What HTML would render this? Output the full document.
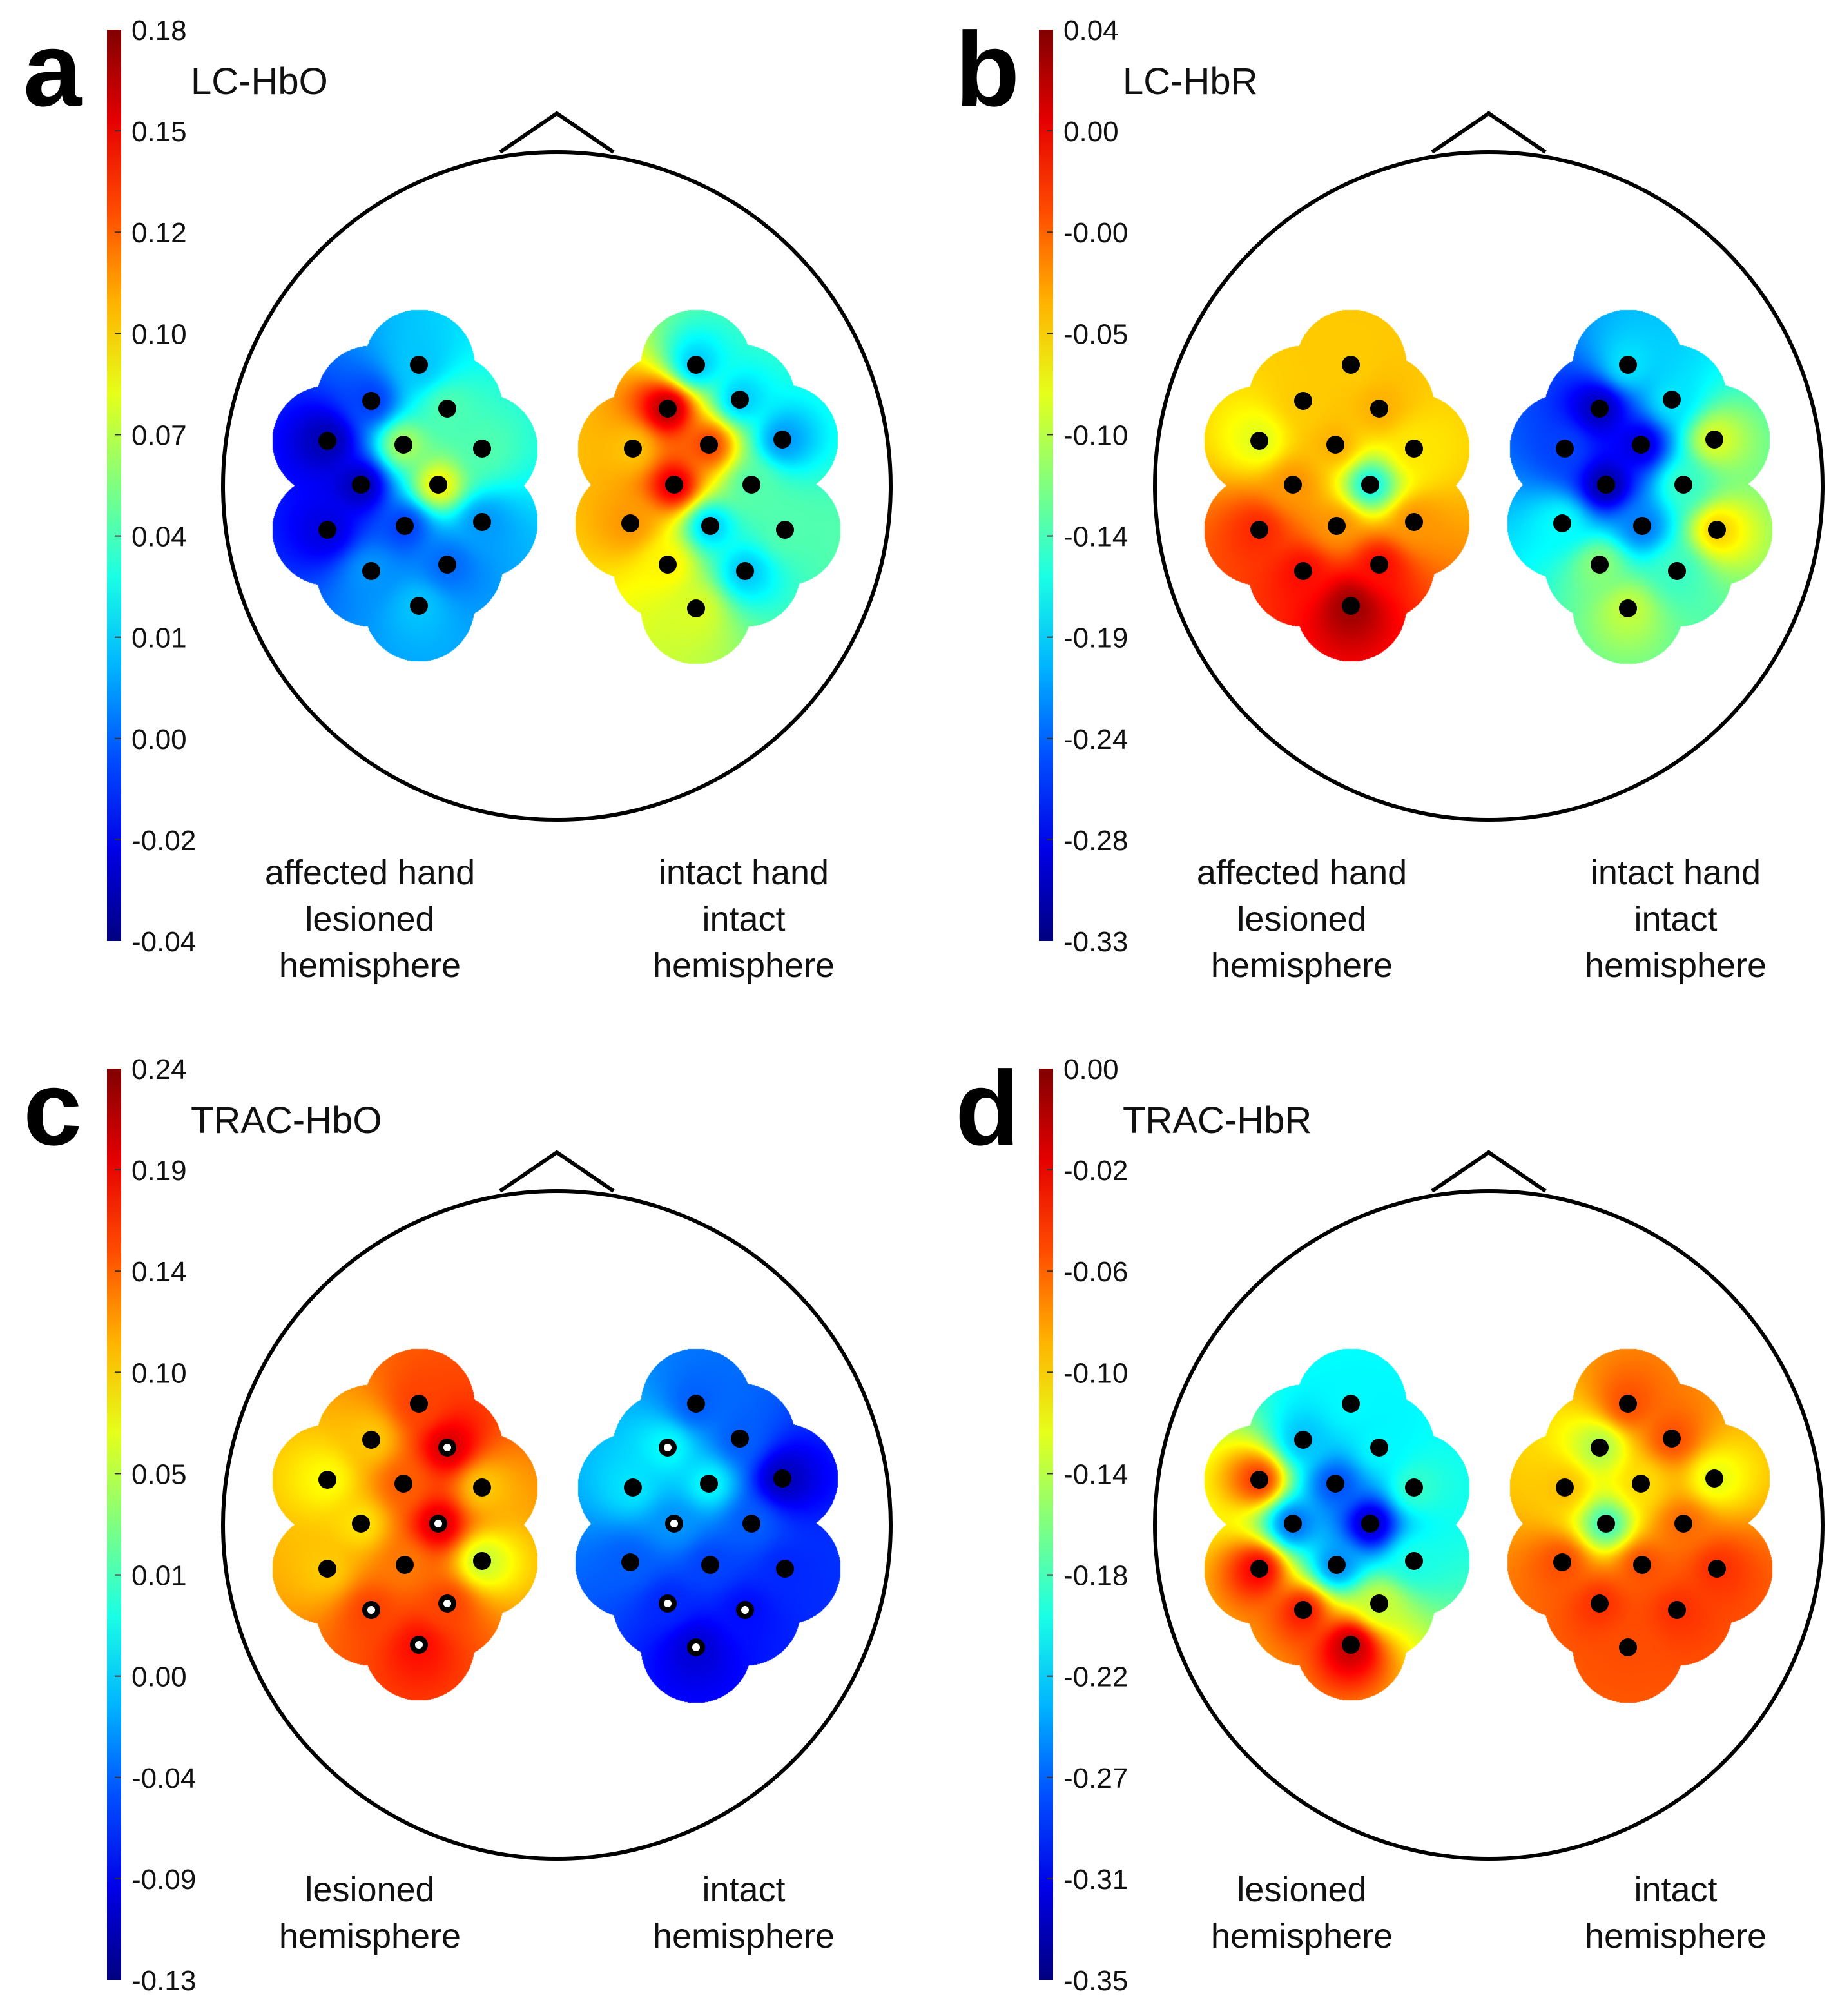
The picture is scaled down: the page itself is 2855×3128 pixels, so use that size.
<!DOCTYPE html>
<html><head><meta charset="utf-8">
<style>
html,body{margin:0;padding:0;background:#fff;}
#wrap{position:relative;width:2855px;height:3128px;overflow:hidden;}
canvas,svg{position:absolute;left:0;top:0;}
text{font-family:"Liberation Sans Narrow","Liberation Sans",sans-serif;}
</style></head>
<body>
<div id="wrap">
<canvas id="cv" width="2855" height="3128"></canvas>
<svg id="sv" width="2855" height="3128" viewBox="0 0 1427.5 1564"></svg>
</div>
<script>
// ---- data ----
const panelLetters = ["a","b","c","d"];
const panelTitles = ["LC-HbO","LC-HbR","TRAC-HbO","TRAC-HbR"];
const tickLabelsA = ["0.18","0.15","0.12","0.10","0.07","0.04","0.01","0.00","-0.02","-0.04"];
const tickLabelsB = ["0.04","0.00","-0.00","-0.05","-0.10","-0.14","-0.19","-0.24","-0.28","-0.33"];
const tickLabelsC = ["0.24","0.19","0.14","0.10","0.05","0.01","0.00","-0.04","-0.09","-0.13"];
const tickLabelsD = ["0.00","-0.02","-0.06","-0.10","-0.14","-0.18","-0.22","-0.27","-0.31","-0.35"];
const rangeMin = [-0.04,-0.33,-0.13,-0.35];
const rangeMax = [0.18,0.04,0.24,0.00];
// electrode values (left hemisphere blob, right hemisphere blob), 14 channels each
const valsA_left  = [0.03,0.00,0.06,-0.03,0.08,0.06,-0.03,0.10,-0.02,0.00,0.02,0.02,0.01,0.03];
const valsA_right = [0.03,0.17,0.03,0.11,0.14,0.02,0.16,0.06,0.12,0.03,0.06,0.10,0.03,0.09];
const valsB_left  = [-0.08,-0.08,-0.07,-0.11,-0.07,-0.09,-0.06,-0.19,-0.02,-0.06,-0.06,-0.01,-0.01,0.03];
const valsB_right = [-0.20,-0.31,-0.20,-0.26,-0.30,-0.11,-0.32,-0.17,-0.19,-0.24,-0.08,-0.14,-0.17,-0.12];
const valsC_left  = [0.17,0.12,0.21,0.10,0.16,0.12,0.11,0.21,0.12,0.15,0.08,0.17,0.17,0.19];
const valsC_right = [-0.05,0.01,-0.05,0.00,0.01,-0.11,-0.03,-0.05,-0.05,-0.06,-0.07,-0.07,-0.08,-0.10];
const valsD_left  = [-0.22,-0.24,-0.22,-0.06,-0.28,-0.20,-0.27,-0.33,-0.04,-0.26,-0.21,-0.05,-0.15,-0.02];
const valsD_right = [-0.07,-0.16,-0.07,-0.11,-0.12,-0.14,-0.20,-0.08,-0.07,-0.07,-0.06,-0.06,-0.06,-0.07];
// significance markers (white-centred electrodes), per panel per hemisphere
const sigLeft  = [[],[],[2,7,11,12,13],[]];
const sigRight = [[],[],[1,6,11,12,13],[]];
const bottomLabelsTop = [["affected hand","lesioned","hemisphere"],["intact hand","intact","hemisphere"]];
const bottomLabelsBot = [["lesioned","hemisphere"],["intact","hemisphere"]];

// ---- layout (display units, x2 on render) ----
const ticks=[tickLabelsA,tickLabelsB,tickLabelsC,tickLabelsD];
const vals=[[valsA_left,valsA_right],[valsB_left,valsB_right],[valsC_left,valsC_right],[valsD_left,valsD_right]];
const offX=[0,723,0,723], offY=[0,0,806,806];
const elecL=[[325,283],[288,311],[347,317],[254,342],[313,345],[374,348],[280,376],[340,376],[254,411],[314,408],[374,405],[288,443],[347,438],[325,470]];
const elecR=[[540,283],[518,317],[574,310],[491,348],[550,345],[607,341],[523,376],[583,376],[489,406],[551,408],[609,411],[518,438],[578,443],[540,472]];
const BLOB_R=43;
function jet(t){t=Math.max(0,Math.min(1,t));const c=v=>Math.round(255*Math.max(0,Math.min(1,v)));
 return [c(1.5-Math.abs(4*t-3)),c(1.5-Math.abs(4*t-2)),c(1.5-Math.abs(4*t-1))];}

// heatmaps
const cv=document.getElementById('cv');const ctx=cv.getContext('2d');
const img=ctx.createImageData(2855,3128);const D=img.data;
for(let i=0;i<D.length;i+=4){D[i]=255;D[i+1]=255;D[i+2]=255;D[i+3]=0;}
for(let p=0;p<4;p++){
 [elecL,elecR].forEach((el,h)=>{
  const v=vals[p][h];const mn=rangeMin[p],mx=rangeMax[p];
  const pts=el.map(e=>[(e[0]+offX[p])*2,(e[1]+offY[p])*2]);
  let x0=1e9,x1=-1e9,y0=1e9,y1=-1e9;pts.forEach(q=>{x0=Math.min(x0,q[0]);x1=Math.max(x1,q[0]);y0=Math.min(y0,q[1]);y1=Math.max(y1,q[1]);});
  const R=BLOB_R*2,R2=R*R;
  for(let y=Math.floor(y0-R);y<=y1+R;y++)for(let x=Math.floor(x0-R);x<=x1+R;x++){
   let inside=false,ws=0,vs=0;
   for(let k=0;k<pts.length;k++){const dx=x-pts[k][0],dy=y-pts[k][1];const d2=dx*dx+dy*dy;
    if(d2<R2)inside=true; const w=1/Math.pow(d2+200,1.4); ws+=w;vs+=w*v[k];}
   if(!inside)continue;
   const val=vs/ws;const c=jet((val-mn)/(mx-mn));
   const i=(y*2855+x)*4;D[i]=c[0];D[i+1]=c[1];D[i+2]=c[2];D[i+3]=255;}
 });
}
ctx.putImageData(img,0,0);

// overlay
const NS="http://www.w3.org/2000/svg";const sv=document.getElementById('sv');
function mk(tag,attrs,parent){const e=document.createElementNS(NS,tag);for(const k in attrs)e.setAttribute(k,attrs[k]);(parent||sv).appendChild(e);return e;}
const defs=mk('defs',{});
const g0=mk('linearGradient',{id:'jetg',x1:0,y1:1,x2:0,y2:0},defs);
for(let i=0;i<=10;i++){const c=jet(i/10);mk('stop',{offset:i/10,'stop-color':`rgb(${c})`},g0);}
for(let p=0;p<4;p++){
 const ox=offX[p],oy=offY[p];
 const g=mk('g',{});
 
 
 const L=mk('text',{x:ox+18,y:oy+82,'font-size':82,'font-weight':'bold','font-family':'Liberation Sans Narrow, Liberation Sans, sans-serif'},g);L.textContent=panelLetters[p];
 
 
 const bar=mk('rect',{x:ox+83,y:oy+23,width:11,height:707,fill:'url(#jetg)'},g);
 
 
 ticks[p].forEach((t,i)=>{const y=oy+23+i*707/9;
  if(i>0&&i<9)mk('line',{x1:ox+89,x2:ox+94,y1:y,y2:y,stroke:'#333','stroke-width':1},g);
  const tx=mk('text',{x:ox+102,y:y+8,'font-size':22,fill:'#111'},g);tx.textContent=t;
  
  });
 const tt=mk('text',{x:ox+148,y:oy+73,'font-size':29,fill:'#111'},g);tt.textContent=panelTitles[p];
 
 
 const nose=mk('polyline',{points:`${ox+388},${oy+118} ${ox+432},${oy+88} ${ox+476},${oy+118}`,fill:'none',stroke:'#000','stroke-width':3,'stroke-linejoin':'miter'},g);
 
 
 const head=mk('circle',{cx:ox+432,cy:oy+377,r:259,fill:'none',stroke:'#000','stroke-width':3},g);
 
 
 [elecL,elecR].forEach((el,h)=>{const sig=h?sigRight[p]:sigLeft[p];
  el.forEach((e,k)=>{const c=mk('circle',{cx:ox+e[0],cy:oy+e[1],r:7,fill:'#000'},g);
   
   
   if(sig.includes(k))mk('circle',{cx:ox+e[0],cy:oy+e[1],r:3,fill:'#fff'},g);});});
 const labs=p<2?bottomLabelsTop:bottomLabelsBot; const y0=p<2?677:660;
 labs.forEach((arr,h)=>{arr.forEach((s,j)=>{const t=mk('text',{x:ox+(h?577:287),y:oy+y0+j*36+9,'font-size':27,'text-anchor':'middle',fill:'#111','font-family':'Liberation Sans, sans-serif'},g);t.textContent=s;
  
  });});
}
</script>
</body></html>
